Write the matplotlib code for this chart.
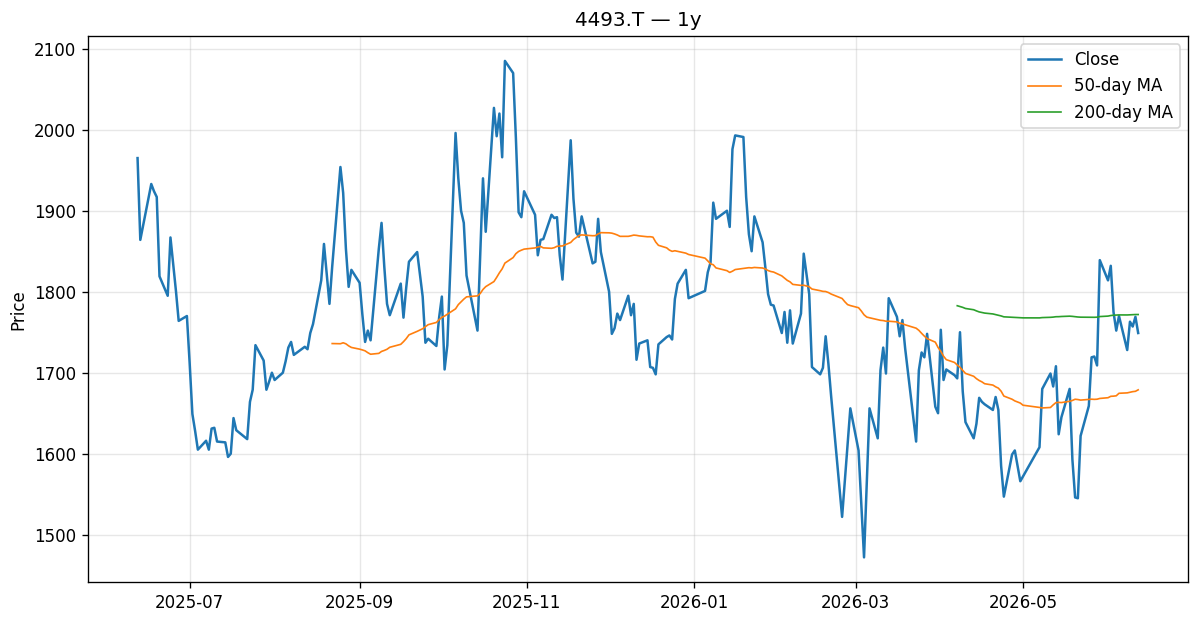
import numpy as np
import pandas as pd
import matplotlib
matplotlib.use("Agg")
import matplotlib.pyplot as plt

ticker = "4493.T"
period = "1y"

# TSE trading days, Jun 12 2025 -> Jun 12 2026
start_date = "2025-06-12"
end_date = "2026-06-12"
holidays = ["2025-07-21", "2025-08-11", "2025-09-15", "2025-09-23", "2025-10-13",
            "2025-11-03", "2025-11-24", "2025-12-31", "2026-01-01", "2026-01-02",
            "2026-01-12", "2026-02-11", "2026-02-23", "2026-03-20", "2026-04-29",
            "2026-05-04", "2026-05-05", "2026-05-06"]

# closing prices, one list per month
close_2025_06 = [1965, 1864, 1916, 1933, 1924, 1917, 1819, 1795, 1867, 1834, 1801, 1764, 1770]
close_2025_07 = [1712, 1649, 1628, 1605, 1616, 1605, 1631, 1632, 1615, 1614, 1596, 1600, 1644,
                 1629, 1618, 1664, 1679, 1734, 1715, 1679, 1689, 1700]
close_2025_08 = [1691, 1700, 1714, 1731, 1738, 1722, 1732, 1729, 1749, 1760, 1814, 1859, 1822,
                 1785, 1831, 1954, 1922, 1853, 1806, 1827]
close_2025_09 = [1811, 1772, 1738, 1752, 1740, 1853, 1885, 1831, 1785, 1771, 1810, 1768, 1805,
                 1837, 1849, 1794, 1737, 1742, 1733, 1768]
close_2025_10 = [1794, 1704, 1734, 1996, 1940, 1900, 1885, 1820, 1752, 1846, 1940, 1874, 2027,
                 1992, 2020, 1966, 2085, 2070, 1990, 1898, 1892, 1924]
close_2025_11 = [1895, 1845, 1864, 1865, 1895, 1891, 1892, 1845, 1815, 1987, 1915, 1873, 1868,
                 1893, 1835, 1837, 1890, 1849]
close_2025_12 = [1800, 1748, 1755, 1773, 1765, 1795, 1771, 1785, 1716, 1736, 1740, 1707, 1706,
                 1698, 1735, 1744, 1746, 1741, 1791, 1810, 1827, 1792]
close_2026_01 = [1801, 1824, 1836, 1910, 1890, 1900, 1880, 1976, 1993, 1991, 1917, 1871, 1850,
                 1893, 1861, 1830, 1797, 1784, 1783]
close_2026_02 = [1749, 1775, 1737, 1777, 1736, 1773, 1847, 1797, 1707, 1698, 1706, 1745, 1711,
                 1671, 1522, 1567, 1611, 1656]
close_2026_03 = [1604, 1538, 1472, 1564, 1656, 1619, 1703, 1731, 1699, 1792, 1769, 1745, 1765,
                 1730, 1615, 1703, 1725, 1719, 1748, 1658, 1650]
close_2026_04 = [1753, 1691, 1704, 1697, 1693, 1750, 1677, 1639, 1619, 1637, 1669, 1664, 1661,
                 1654, 1670, 1654, 1585, 1547, 1599, 1604, 1566]
close_2026_05 = [1572, 1608, 1680, 1699, 1683, 1708, 1624, 1645, 1680, 1593, 1546, 1545, 1622,
                 1659, 1719, 1720, 1709, 1839]
close_2026_06 = [1814, 1832, 1775, 1752, 1770, 1728, 1763, 1757, 1769, 1749]

dates = pd.bdate_range(start_date, end_date, freq="C", holidays=holidays)
closes = (close_2025_06 + close_2025_07 + close_2025_08 + close_2025_09 + close_2025_10
          + close_2025_11 + close_2025_12 + close_2026_01 + close_2026_02 + close_2026_03
          + close_2026_04 + close_2026_05 + close_2026_06)

s = pd.Series(closes, index=dates, dtype=float)
ma50 = s.rolling(50).mean()
ma200 = s.rolling(200).mean()

fig, ax = plt.subplots(figsize=(1199 / 120, 622 / 120), dpi=120)
fig.subplots_adjust(left=0.073, right=0.991, top=0.942, bottom=0.064)

ax.plot(s.index, s.values, label="Close", linewidth=1.5)
ax.plot(ma50.index, ma50.values, label="50-day MA", linewidth=1.0)
ax.plot(ma200.index, ma200.values, label="200-day MA", linewidth=1.0)

ax.set_title(f"{ticker} \u2014 {period}")
ax.set_ylabel("Price")
ax.grid(True, alpha=0.3)
ax.legend(loc="upper right")

fig.savefig("out.png", dpi=120)
